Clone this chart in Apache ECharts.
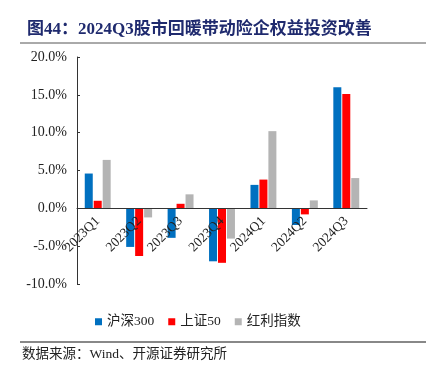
<!DOCTYPE html>
<html>
<head>
<meta charset="utf-8">
<script src="https://cdn.jsdelivr.net/npm/echarts@6/dist/echarts.min.js"></script>
<style>
  html, body { margin: 0; padding: 0; background: #fff; }
  #chart { width: 426px; height: 375px; }
</style>
</head>
<body>
<div id="chart"></div>
<script>
// 季度
var categories = ['2023Q1', '2023Q2', '2023Q3', '2023Q4', '2024Q1', '2024Q2', '2024Q3'];
// 区间涨跌幅 (%)
var hs300 = [4.6, -5.1, -3.9, -7.0, 3.1, -2.2, 16.0];
var sz50 = [1.0, -6.3, 0.6, -7.2, 3.8, -0.8, 15.1];
var dividend = [6.4, -1.2, 1.85, -4.0, 10.2, 1.05, 4.0];
var seriesNames = ['沪深300', '上证50', '红利指数'];
var seriesColors = ['#0070C0', '#FF0000', '#B4B4B4'];

var yMin = -10, yMax = 20;
var gridTop = 57, gridBottom = 91;

var serif = '"Liberation Serif", "DejaVu Serif", "Noto Sans CJK SC", serif';

var myChart = echarts.init(document.getElementById('chart'));

// 横轴放在0位置（标签跟着走）
var plotH = 375 - gridTop - gridBottom;
var zeroOffset = -Math.round((0 - yMin) / (yMax - yMin) * plotH);

var option = {
  backgroundColor: '#fff',
  animation: false,
  title: {
    text: '图44：2024Q3股市回暖带动险企权益投资改善',
    left: 22,
    top: 16,
    textStyle: {
      fontFamily: serif,
      fontSize: 17,
      fontWeight: 'bold',
      color: '#1F2A6E'
    }
  },
  graphic: [
    { type: 'line', shape: { x1: 20, y1: 43, x2: 426, y2: 43 }, style: { stroke: '#555', lineWidth: 1 } },
    { type: 'line', shape: { x1: 20, y1: 342, x2: 426, y2: 342 }, style: { stroke: '#888', lineWidth: 2 } },
    {
      type: 'text', left: 22, top: 348,
      style: { text: '数据来源：Wind、开源证券研究所', fontFamily: serif, fontSize: 13.5, fill: '#222' }
    }
  ],
  legend: {
    data: seriesNames,
    left: 90,
    top: 310,
    itemWidth: 7,
    itemHeight: 7,
    itemGap: 14,
    icon: 'rect',
    textStyle: { fontFamily: serif, fontSize: 13.5, color: '#222' }
  },
  grid: { left: 77, right: 59, top: gridTop, bottom: gridBottom, containLabel: false },
  xAxis: [{
    type: 'category',
    data: categories,
    offset: zeroOffset,
    z: 20,
    axisLine: { onZero: false, lineStyle: { color: '#333' } },
    axisTick: { inside: true, length: 4, lineStyle: { color: '#333' } },
    axisLabel: { show: false }
  }, {
    // 只画标签，压在柱子上面
    type: 'category',
    data: categories,
    position: 'bottom',
    offset: zeroOffset,
    zlevel: 2,
    z: 20,
    axisLine: { show: false },
    axisTick: { show: false },
    axisLabel: {
      rotate: 45,
      interval: 0,
      margin: 11,
      fontFamily: serif,
      fontSize: 13.5,
      color: '#222'
    }
  }],
  yAxis: {
    type: 'value',
    min: yMin,
    max: yMax,
    interval: 5,
    splitLine: { show: false },
    axisLine: { show: true, lineStyle: { color: '#333' } },
    axisTick: { show: true, inside: true, length: 3, lineStyle: { color: '#333' } },
    axisLabel: {
      fontFamily: serif,
      fontSize: 14,
      color: '#222',
      margin: 10,
      formatter: function (v) { return v.toFixed(1) + '%'; }
    }
  },
  series: [
    { name: seriesNames[0], type: 'bar', z: 1, data: hs300, barWidth: 8, barGap: '12%', itemStyle: { color: seriesColors[0] } },
    { name: seriesNames[1], type: 'bar', z: 1, data: sz50, barWidth: 8, barGap: '12%', itemStyle: { color: seriesColors[1] } },
    { name: seriesNames[2], type: 'bar', z: 1, data: dividend, barWidth: 8, barGap: '12%', itemStyle: { color: seriesColors[2] } }
  ]
};

myChart.setOption(option);
</script>
</body>
</html>
